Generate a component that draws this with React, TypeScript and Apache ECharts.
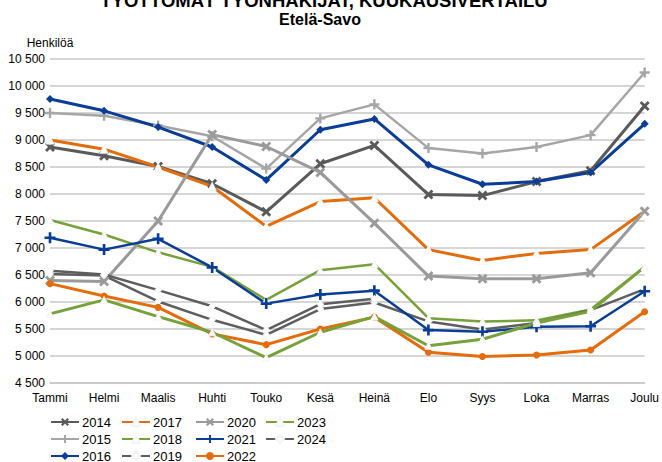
import React, { useEffect, useRef } from "react";
import * as echarts from "echarts";

const months = ["Tammi", "Helmi", "Maalis", "Huhti", "Touko", "Kesä", "Heinä", "Elo", "Syys", "Loka", "Marras", "Joulu"];
const years = ["2014", "2015", "2016", "2017", "2018", "2019", "2020", "2021", "2022", "2023", "2024"];
const y2014 = [8870, 8710, 8510, 8190, 7670, 8560, 8900, 7990, 7970, 8230, 8430, 9630];
const y2015 = [9500, 9450, 9270, 9070, 8470, 9400, 9660, 8850, 8750, 8870, 9090, 10250];
const y2016 = [9760, 9540, 9240, 8870, 8260, 9190, 9390, 8540, 8180, 8230, 8400, 9300];
const y2017 = [9000, 8830, 8500, 8140, 7400, 7860, 7930, 6970, 6770, 6900, 6970, 7680];
const y2018 = [7520, 7250, 6920, 6650, 6040, 6590, 6700, 5700, 5640, 5660, 5860, 6650];
const y2019 = [6520, 6490, 6010, 5670, 5390, 5870, 5990, 5640, 5490, 5610, 5850, 6240];
const y2020 = [6400, 6380, 7500, 9100, 8880, 8400, 7460, 6480, 6430, 6430, 6540, 7680];
const y2021 = [7190, 6970, 7170, 6640, 5970, 6140, 6210, 5480, 5450, 5540, 5550, 6200];
const y2022 = [6340, 6110, 5900, 5410, 5210, 5500, 5720, 5070, 4990, 5020, 5110, 5820];
const y2023 = [5780, 6040, 5730, 5440, 4970, 5440, 5730, 5190, 5310, 5610, 5830, 6650];
const y2024 = [6580, 6510, 6220, 5920, 5480, 5960, 6060];

const titleText = "TYÖTTÖMÄT TYÖNHAKIJAT, KUUKAUSIVERTAILU";
const subtitleText = "Etelä-Savo";
const yAxisName = "Henkilöä";

const FONT = '"Liberation Sans", Arial, sans-serif';
const X_SYM = "path://M0,2 L2,0 L5,3 L8,0 L10,2 L7,5 L10,8 L8,10 L5,7 L2,10 L0,8 L3,5 Z";
const PLUS_SYM = "path://M3.8,0 H6.2 V3.8 H10 V6.2 H6.2 V10 H3.8 V6.2 H0 V3.8 H3.8 Z";

function fmt(v: number) {
  return String(v).replace(/\B(?=(\d{3})+(?!\d))/g, " ");
}

export default function App() {
  const ref = useRef<HTMLDivElement>(null);
  useEffect(() => {
    if (!ref.current) return;
    const chart = echarts.init(ref.current, undefined, { renderer: "svg" });
    const dataArr = [y2014, y2015, y2016, y2017, y2018, y2019, y2020, y2021, y2022, y2023, y2024];
    const styles: any[] = [
      { color: "#5a5a5a", width: 3, symbol: X_SYM, size: 10, fill: "#5a5a5a" },
      { color: "#a6a6a6", width: 2.5, symbol: PLUS_SYM, size: 10, fill: "#a6a6a6" },
      { color: "#0a3d96", width: 3, symbol: "diamond", size: 8, fill: "#0a3d96" },
      { color: "#e46c0a", width: 3, symbol: "triangle", size: 8, fill: "#ffffff" },
      { color: "#77a13b", width: 2.5, symbol: "triangle", size: 7, fill: "#ffffff" },
      { color: "#5e5e5e", width: 2.5, symbol: "diamond", size: 7, fill: "#ffffff" },
      { color: "#9a9a9a", width: 3, symbol: X_SYM, size: 10, fill: "#9a9a9a" },
      { color: "#0a3d96", width: 2.5, symbol: PLUS_SYM, size: 11, fill: "#0a3d96" },
      { color: "#e46c0a", width: 3, symbol: "circle", size: 7, fill: "#e46c0a" },
      { color: "#77a13b", width: 3, symbol: "triangle", size: 7, fill: "#ffffff" },
      { color: "#5e5e5e", width: 2.5, symbol: "diamond", size: 7, fill: "#ffffff" },
    ];
    const series = years.map((name, i) => {
      const s = styles[i];
      return {
        type: "line",
        name,
        data: dataArr[i],
        symbol: s.symbol,
        symbolSize: s.size,
        showSymbol: true,
        lineStyle: { color: s.color, width: s.width },
        itemStyle: {
          color: s.fill,
          borderColor: s.fill === "#ffffff" ? "#f4f4f4" : s.color,
          borderWidth: s.fill === "#ffffff" ? 1 : 0,
        },
        emphasis: { disabled: true },
      };
    });
    const legendCols = [
      { left: 50, data: ["2014", "2015", "2016"] },
      { left: 121, data: ["2017", "2018", "2019"] },
      { left: 195, data: ["2020", "2021", "2022"] },
      { left: 265, data: ["2023", "2024"] },
    ];
    chart.setOption({
      animation: false,
      grid: { left: 50, right: 17, top: 59, bottom: 79 },
      graphic: [
        {
          type: "text",
          x: 324,
          y: 0,
          style: {
            text: titleText,
            font: `bold 18.5px ${FONT}`,
            fill: "#000",
            textAlign: "center",
            textVerticalAlign: "middle",
          },
        },
        {
          type: "text",
          x: 320,
          y: 19,
          style: {
            text: subtitleText,
            font: `bold 16px ${FONT}`,
            fill: "#000",
            textAlign: "center",
            textVerticalAlign: "middle",
          },
        },
      ],
      legend: legendCols.map((c) => ({
        orient: "vertical",
        left: c.left,
        top: 415,
        height: 60,
        data: c.data,
        itemWidth: 28,
        itemHeight: 10,
        itemGap: 3,
        padding: 0,
        textStyle: { fontFamily: FONT, fontSize: 13, lineHeight: 14, color: "#000", padding: [0, 0, 0, -2] },
        selectedMode: false,
      })),
      xAxis: {
        type: "category",
        data: months,
        boundaryGap: false,
        axisLine: { show: true, lineStyle: { color: "#c8c8c8", width: 1.5 } },
        axisTick: { show: false },
        axisLabel: { color: "#000", fontFamily: FONT, fontSize: 12, margin: 9 },
      },
      yAxis: {
        type: "value",
        min: 4500,
        max: 10500,
        interval: 500,
        name: yAxisName,
        nameLocation: "end",
        nameGap: 10,
        nameTextStyle: { color: "#000", fontFamily: FONT, fontSize: 12 },
        axisLine: { show: false },
        axisTick: { show: false },
        axisLabel: { color: "#000", fontFamily: FONT, fontSize: 12, margin: 5, formatter: (v: number) => fmt(v) },
        splitLine: { lineStyle: { color: "#c8c8c8", width: 1.5 } },
      },
      series,
    });
    return () => chart.dispose();
  }, []);
  return <div ref={ref} style={{ width: 662, height: 462, position: "absolute", left: 0, top: 0 }} />;
}
